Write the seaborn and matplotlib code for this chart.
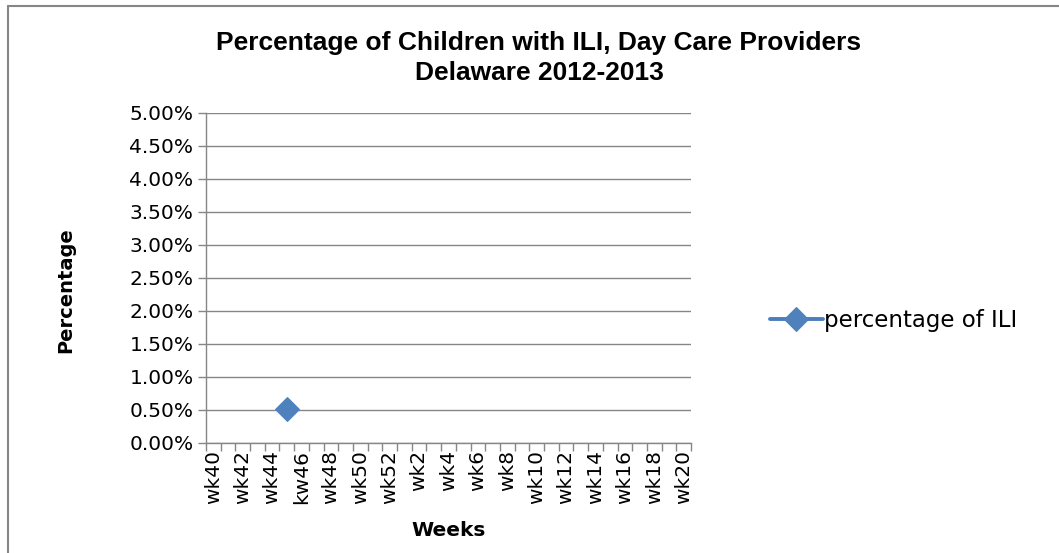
import numpy as np
import pandas as pd
import matplotlib.pyplot as plt
import seaborn as sns
from matplotlib.lines import Line2D
from matplotlib.ticker import FixedLocator, PercentFormatter

# week categories, 2012-2013 season
weeks = ['wk40', 'wk41', 'wk42', 'wk43', 'wk44', 'wk45', 'kw46', 'wk47', 'wk48',
         'wk49', 'wk50', 'wk51', 'wk52', 'wk1', 'wk2', 'wk3', 'wk4', 'wk5', 'wk6',
         'wk7', 'wk8', 'wk9', 'wk10', 'wk11', 'wk12', 'wk13', 'wk14', 'wk15',
         'wk16', 'wk17', 'wk18', 'wk19', 'wk20']
# only wk45 has a reported value
pct_ili = [np.nan] * 5 + [0.0052] + [np.nan] * 27

df = pd.DataFrame({'pos': np.arange(len(weeks)), 'week': weeks, 'pct': pct_ili})

sns.set_style("white")
plt.rcParams['font.family'] = ['DejaVu Sans']
plt.rcParams['text.color'] = 'black'
plt.rcParams['axes.labelcolor'] = 'black'
plt.rcParams['xtick.labelcolor'] = 'black'
plt.rcParams['ytick.labelcolor'] = 'black'

fig = plt.figure(figsize=(10.59, 5.53), dpi=100)
ax = fig.add_axes([0.1945, 0.199, 0.458, 0.597])

sns.lineplot(data=df, x='pos', y='pct', ax=ax, color='#4A7EBB', linewidth=2.8,
             marker='D', markersize=12, markerfacecolor='#4F81BD',
             markeredgecolor='#4F81BD', label='percentage of ILI')

grey = '#868686'
ax.set_ylim(0, 0.05)
ax.set_yticks(np.arange(0, 0.0501, 0.005))
ax.yaxis.set_major_formatter(PercentFormatter(1.0, decimals=2))
ax.grid(axis='y', color=grey, linewidth=1)
ax.set_axisbelow(True)

ax.set_xlim(-0.5, len(weeks) - 0.5)
ax.xaxis.set_major_locator(FixedLocator(np.arange(-0.5, len(weeks), 1)))
ax.set_xticklabels([])
ax.xaxis.set_minor_locator(FixedLocator(df['pos'][::2]))
ax.set_xticklabels(weeks[::2], minor=True, rotation=90)
ax.tick_params(axis='x', which='major', length=6, width=1, color=grey, direction='out')
ax.tick_params(axis='x', which='minor', length=0, labelsize=14.5, pad=5)
ax.tick_params(axis='y', length=6, width=1, color=grey, direction='out', labelsize=14.5, pad=3)
ax.xaxis.set_ticks_position('bottom')
ax.yaxis.set_ticks_position('left')

for side in ['top', 'right']:
    ax.spines[side].set_visible(False)
for side in ['left', 'bottom']:
    ax.spines[side].set_color(grey)
    ax.spines[side].set_linewidth(1)

ax.set_xlabel('Weeks', fontsize=14.5, fontweight='bold', va='center')
ax.xaxis.set_label_coords(0.5, -0.265)
ax.set_ylabel('Percentage', fontsize=14, fontweight='bold', va='center')
ax.yaxis.set_label_coords(-0.29, 0.464)

fig.text(0.509, 0.895, 'Percentage of Children with ILI, Day Care Providers\nDelaware 2012-2013',
         ha='center', va='center', fontsize=19, fontweight='bold',
         family='Liberation Sans', linespacing=1.28)

ax.legend(loc='center left', bbox_to_anchor=(1.163, 0.372), frameon=False,
          fontsize=16.5, handlelength=2.3, handletextpad=0.05, borderaxespad=0,
          borderpad=0)

# chart frame (left and top edges)
fig.add_artist(Line2D([0.0075, 0.0075], [0, 0.989], transform=fig.transFigure, color=grey, lw=1.5))
fig.add_artist(Line2D([0.0075, 1], [0.989, 0.989], transform=fig.transFigure, color=grey, lw=1.5))

fig.savefig('out.png', dpi=100)
